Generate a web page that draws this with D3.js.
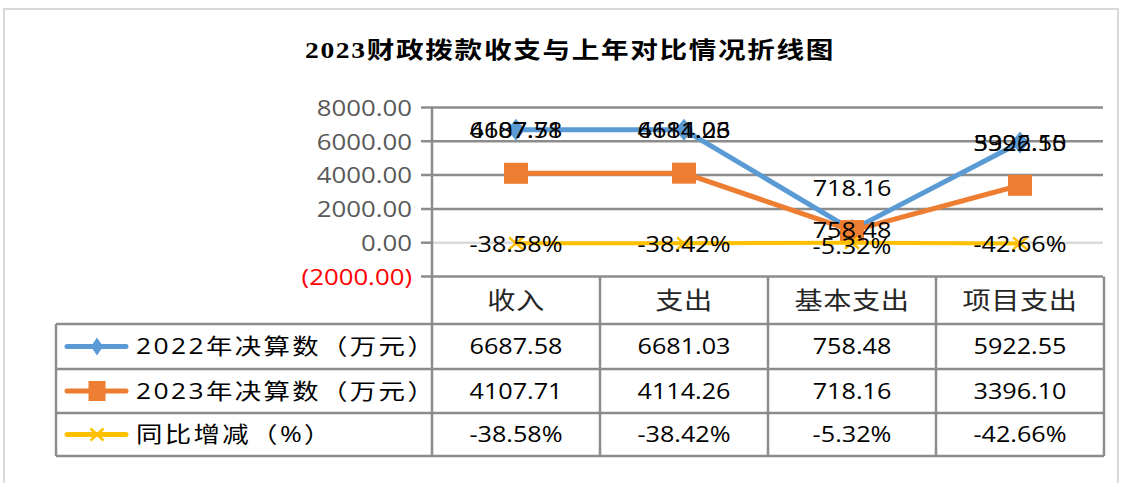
<!DOCTYPE html>
<html>
<head>
<meta charset="utf-8">
<script src="https://cdn.jsdelivr.net/npm/d3@7/dist/d3.min.js"></script>
<style>
  html, body { margin: 0; padding: 0; background: #fff; }
  svg { display: block; }
</style>
</head>
<body>
<svg id="chart" width="1125" height="483"></svg>
<script>
// ---------------- data ----------------
const title = "2023财政拨款收支与上年对比情况折线图";
const categories = ["收入", "支出", "基本支出", "项目支出"];
const values2022 = [6687.58, 6681.03, 758.48, 5922.55];
const values2023 = [4107.71, 4114.26, 718.16, 3396.10];
const yoyPct = [-38.58, -38.42, -5.32, -42.66];
const seriesNames = ["2022年决算数（万元）", "2023年决算数（万元）", "同比增减（%）"];
const yTicks = [-2000, 0, 2000, 4000, 6000, 8000];
// where Excel put the 2023 labels: on top of the 2022 point, or above own point
const label2023Placement = ["at2022", "at2022", "above", "at2022"];

// ---------------- layout ----------------
const SX = 1.2; // horizontal stretch of the reference picture
const colors = { s2022: "#5B9BD5", s2023: "#ED7D31", yoy: "#FFC000" };
const gridColor = "#8c8c8c";
const numFont = "'Open Sans', 'Noto Sans CJK SC', sans-serif";
const cjkFont = "'Open Sans', 'Noto Sans CJK SC', sans-serif";

const plotLeft = 432, plotRight = 1104, gridLeft = 421, gridRight = 1103;
const yTop = 107.5, yBottom = 276.5;
const tableTop = 276.5, rowLines = [324, 369, 413, 456];
const legendLeft = 56;

const svg = d3.select("#chart");
svg.append("rect").attr("width", 1125).attr("height", 483).attr("fill", "#fff");
// outer frame
svg.append("rect").attr("x", 4).attr("y", 9).attr("width", 1114).attr("height", 520)
  .attr("fill", "none").attr("stroke", "#d9d9d9").attr("stroke-width", 2);

const x = d3.scaleBand().domain(categories).range([plotLeft, plotRight]);
const cx = c => x(c) + x.bandwidth() / 2;
const y = d3.scaleLinear().domain([-2000, 8000]).range([yBottom, yTop]);

function stext(g, px, py, str, opt) {
  opt = opt || {};
  return g.append("text")
    .attr("transform", `translate(${px},${py}) scale(${SX},1)`)
    .attr("text-anchor", opt.anchor || "middle")
    .attr("dy", opt.dy || "0.36em")
    .attr("font-family", opt.font || numFont)
    .attr("font-size", opt.size || 21)
    .attr("font-weight", opt.weight || "normal")
    .attr("fill", opt.fill || "#000")
    .attr("letter-spacing", opt.ls || 0)
    .text(str);
}

// title
stext(svg, 570, 50, title, { font: "'Liberation Serif', 'Noto Sans CJK SC', serif", size: 23, weight: 600, ls: 1.4 });

// ---------------- y axis + gridlines ----------------
const fmtAxis = d => d < 0 ? `(${Math.abs(d).toFixed(2)})` : d.toFixed(2);
const axisG = svg.append("g").attr("transform", `translate(${plotLeft},0)`)
  .call(d3.axisLeft(y).tickValues(yTicks).tickSize(0).tickFormat(fmtAxis));
axisG.select(".domain").remove();
axisG.selectAll(".tick text")
  .attr("x", -20 / SX)
  .attr("dy", "0.36em")
  .attr("transform", `scale(${SX},1)`)
  .attr("font-family", numFont)
  .attr("font-size", 21.5)
  .attr("fill", d => d < 0 ? "#FF0000" : "#595959");

const grid = svg.append("g");
yTicks.forEach(t => {
  if (t === 0) {
    grid.append("line").attr("x1", plotLeft).attr("x2", gridRight).attr("y1", y(t)).attr("y2", y(t))
      .attr("stroke", "#d9d9d9").attr("stroke-width", 2.5);
    grid.append("line").attr("x1", gridLeft).attr("x2", plotLeft).attr("y1", y(t)).attr("y2", y(t))
      .attr("stroke", gridColor).attr("stroke-width", 2.5);
  } else {
    grid.append("line").attr("x1", gridLeft).attr("x2", gridRight).attr("y1", y(t)).attr("y2", y(t))
      .attr("stroke", gridColor).attr("stroke-width", 2.5);
  }
});

// ---------------- data table ----------------
const tbl = svg.append("g").attr("stroke", gridColor).attr("stroke-width", 2.5);
// vertical axis line through plot & table
tbl.append("line").attr("x1", plotLeft).attr("x2", plotLeft).attr("y1", yTop).attr("y2", rowLines[3]);
categories.forEach(c => {
  const xr = x(c) + x.bandwidth();
  tbl.append("line").attr("x1", xr).attr("x2", xr).attr("y1", tableTop).attr("y2", rowLines[3]);
});
tbl.append("line").attr("x1", legendLeft).attr("x2", legendLeft).attr("y1", rowLines[0]).attr("y2", rowLines[3]);
rowLines.forEach(r => {
  tbl.append("line").attr("x1", legendLeft).attr("x2", plotRight).attr("y1", r).attr("y2", r);
});

const txt = svg.append("g");
const headerMid = (tableTop + rowLines[0]) / 2;
categories.forEach(c => stext(txt, cx(c), headerMid, c, { font: cjkFont, size: 23.5, fill: "#262626", ls: 0.5 }));
const rowMid = i => (rowLines[i] + rowLines[i + 1]) / 2;
const rowsData = [values2022.map(v => v.toFixed(2)), values2023.map(v => v.toFixed(2)), yoyPct.map(v => v.toFixed(2) + "%")];
rowsData.forEach((row, i) => {
  row.forEach((s, j) => stext(txt, cx(categories[j]), rowMid(i), s, { size: 21 }));
  stext(txt, 136, rowMid(i), seriesNames[i], { anchor: "start", font: cjkFont, size: 22, ls: 2 });
});

// ---------------- markers ----------------
function diamond(g, px, py, w, h, col) {
  g.append("path").attr("d", `M${px},${py - h}L${px + w},${py}L${px},${py + h}L${px - w},${py}Z`).attr("fill", col);
}
function square(g, px, py, w, h, col) {
  g.append("rect").attr("x", px - w).attr("y", py - h).attr("width", 2 * w).attr("height", 2 * h).attr("fill", col);
}
function cross(g, px, py, w, h, col) {
  g.append("path").attr("d", `M${px - w},${py - h}L${px + w},${py + h}M${px - w},${py + h}L${px + w},${py - h}`)
    .attr("stroke", col).attr("stroke-width", 2.5).attr("fill", "none");
}

// legend keys
const leg = svg.append("g");
[[colors.s2022, diamond, 6, 9], [colors.s2023, square, 8.5, 10], [colors.yoy, cross, 6.5, 6]].forEach((k, i) => {
  const ry = rowMid(i);
  leg.append("line").attr("x1", 67).attr("x2", 126).attr("y1", ry).attr("y2", ry)
    .attr("stroke", k[0]).attr("stroke-width", 5).attr("stroke-linecap", "round");
  k[1](leg, 97, ry, k[2], k[3], k[0]);
});

// ---------------- lines ----------------
const line = d3.line().x((d, i) => cx(categories[i])).y(d => y(d));
const plot = svg.append("g");
plot.append("path").datum(values2022).attr("d", line).attr("fill", "none")
  .attr("stroke", colors.s2022).attr("stroke-width", 5).attr("stroke-linejoin", "round").attr("stroke-linecap", "round");
values2022.forEach((v, i) => diamond(plot, cx(categories[i]), y(v), 9, 11, colors.s2022));
plot.append("path").datum(values2023).attr("d", line).attr("fill", "none")
  .attr("stroke", colors.s2023).attr("stroke-width", 5).attr("stroke-linejoin", "round").attr("stroke-linecap", "round");
values2023.forEach((v, i) => square(plot, cx(categories[i]), y(v), 12, 10.5, colors.s2023));
plot.append("path").datum(yoyPct).attr("d", line).attr("fill", "none")
  .attr("stroke", colors.yoy).attr("stroke-width", 4).attr("stroke-linecap", "round");
yoyPct.forEach((v, i) => cross(plot, cx(categories[i]), y(v), 7, 6, colors.yoy));

// ---------------- data labels ----------------
const lab = svg.append("g");
values2022.forEach((v, i) => stext(lab, cx(categories[i]), y(v) + 1, v.toFixed(2), { size: 21 }));
values2023.forEach((v, i) => {
  const py = label2023Placement[i] === "above" ? y(v) - 42 : y(values2022[i]) + 1;
  stext(lab, cx(categories[i]), py, v.toFixed(2), { size: 21 });
});
yoyPct.forEach((v, i) => stext(lab, cx(categories[i]), y(v) + (i === 2 ? 4 : 1), v.toFixed(2) + "%", { size: 21 }));
</script>
</body>
</html>
